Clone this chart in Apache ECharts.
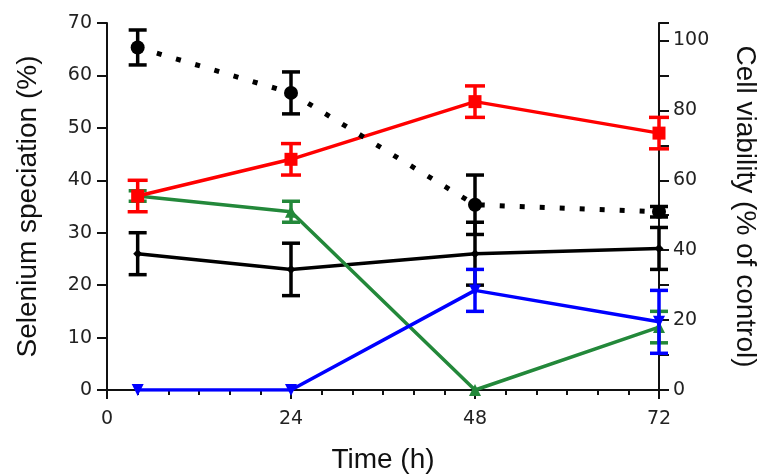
<!DOCTYPE html>
<html><head><meta charset="utf-8">
<script src="https://cdn.jsdelivr.net/npm/echarts@6/dist/echarts.min.js"></script>
<style>html,body{margin:0;padding:0;background:#fff}#c{width:761px;height:474px}</style>
</head><body><div id="c"></div>
<script>
const times = [4, 24, 48, 72];
const xTicks = [0, 24, 48, 72];
const rightTicks = [0, 20, 40, 60, 80, 100];
// Selenium speciation (%) - left axis
const redVals = [37, 44, 55, 49];
const redErr = [3, 3, 3, 3];
const greenVals = [37, 34, 0, 12];
const greenErr = [1, 2, 0, 3];
const blackVals = [26, 23, 26, 27];
const blackErr = [4, 5, 6, 4];
const blueVals = [0, 0, 19, 13];
const blueErr = [0, 0, 4, 6];
// Cell viability (% of control) - right axis
const viabVals = [98, 85, 53, 51];
const viabErr = [5, 6, 8.5, 1.5];

const F = 'Liberation Sans, Arial, sans-serif';
const TF = 'DejaVu Sans, sans-serif';

function errSeries(vals, errs, color, yIdx, z, w) {
  return {
    type: 'custom', yAxisIndex: yIdx, z: z, silent: true,
    data: times.map((t, i) => [t, vals[i] - errs[i], vals[i] + errs[i]]),
    renderItem: function (params, api) {
      if (api.value(2) - api.value(1) <= 0) return null;
      const lo = api.coord([api.value(0), api.value(1)]);
      const hi = api.coord([api.value(0), api.value(2)]);
      const st = { stroke: color, lineWidth: 3.5 };
      return { type: 'group', children: [
        { type: 'line', shape: { x1: lo[0], y1: lo[1], x2: hi[0], y2: hi[1] }, style: st },
        { type: 'line', shape: { x1: lo[0] - w, y1: lo[1], x2: lo[0] + w, y2: lo[1] }, style: st },
        { type: 'line', shape: { x1: hi[0] - w, y1: hi[1], x2: hi[0] + w, y2: hi[1] }, style: st }
      ]};
    }
  };
}
function lineSeries(vals, color, symbol, size, yIdx, lineStyle, z) {
  return {
    type: 'line', yAxisIndex: yIdx, z: z,
    data: times.map((t, i) => [t, vals[i]]),
    symbol: symbol, symbolSize: size, showSymbol: true,
    itemStyle: { color: color },
    lineStyle: Object.assign({ color: color, width: 3.5 }, lineStyle || {}),
    animation: false
  };
}

const axisCol = '#111';
const chart = echarts.init(document.getElementById('c'));
chart.setOption({
  animation: false,
  grid: { left: 107, right: 102, top: 23, bottom: 84, containLabel: false, outerBoundsMode: 'none' },
  xAxis: {
    type: 'value', min: 0, max: 72, interval: 24,
    name: 'Time (h)', nameLocation: 'middle', nameGap: 56,
    nameTextStyle: { fontFamily: F, fontSize: 28, color: '#111' },
    axisLine: { lineStyle: { color: axisCol, width: 2 } },
    axisTick: { length: 9, lineStyle: { color: axisCol, width: 2 } },
    minorTick: { show: true, splitNumber: 6, length: 5, lineStyle: { color: axisCol, width: 2 } },
    axisLabel: { fontFamily: TF, fontSize: 19, color: '#222', margin: 20,
      formatter: v => xTicks.includes(v) ? String(v) : '' },
    splitLine: { show: false }
  },
  yAxis: [{
    type: 'value', min: 0, max: 70, interval: 10, position: 'left',
    name: 'Selenium speciation (%)', nameLocation: 'middle', nameGap: 65,
    nameTextStyle: { fontFamily: F, fontSize: 28, color: '#111' },
    axisLine: { show: true, lineStyle: { color: axisCol, width: 2 } },
    axisTick: { show: true, length: 10, lineStyle: { color: axisCol, width: 2 } },
    axisLabel: { fontFamily: TF, fontSize: 19, color: '#222', margin: 15 },
    splitLine: { show: false }
  }, {
    type: 'value', min: 0, max: 105, interval: 10, position: 'right',
    name: 'Cell viability (% of control)', nameLocation: 'middle', nameGap: 72, nameRotate: -90,
    nameTextStyle: { fontFamily: F, fontSize: 28, color: '#111' },
    axisLine: { show: true, lineStyle: { color: axisCol, width: 2 } },
    axisTick: { show: true, length: 10, lineStyle: { color: axisCol, width: 2 } },
    axisLabel: { fontFamily: TF, fontSize: 19, color: '#222', margin: 14,
      formatter: v => rightTicks.includes(v) ? String(v) : '' },
    splitLine: { show: false }
  }],
  series: [
    lineSeries(blackVals, '#000', 'diamond', 9, 0, null, 2),
    errSeries(blackVals, blackErr, '#000', 0, 3, 9),
    lineSeries(greenVals, '#23883a', 'triangle', 12, 0, null, 4),
    errSeries(greenVals, greenErr, '#23883a', 0, 5, 9),
    lineSeries(blueVals, '#0000ff', 'path://M0,0 L10,0 L5,9 Z', 12, 0, null, 6),
    errSeries(blueVals, blueErr, '#0000ff', 0, 7, 9),
    lineSeries(redVals, '#ff0000', 'rect', 13, 0, null, 8),
    errSeries(redVals, redErr, '#ff0000', 0, 9, 10),
    lineSeries(viabVals, '#000', 'circle', 14, 1, { type: [5, 15], width: 5, cap: 'butt' }, 10),
    errSeries(viabVals, viabErr, '#000', 1, 11, 9)
  ]
});
</script>
</body></html>
